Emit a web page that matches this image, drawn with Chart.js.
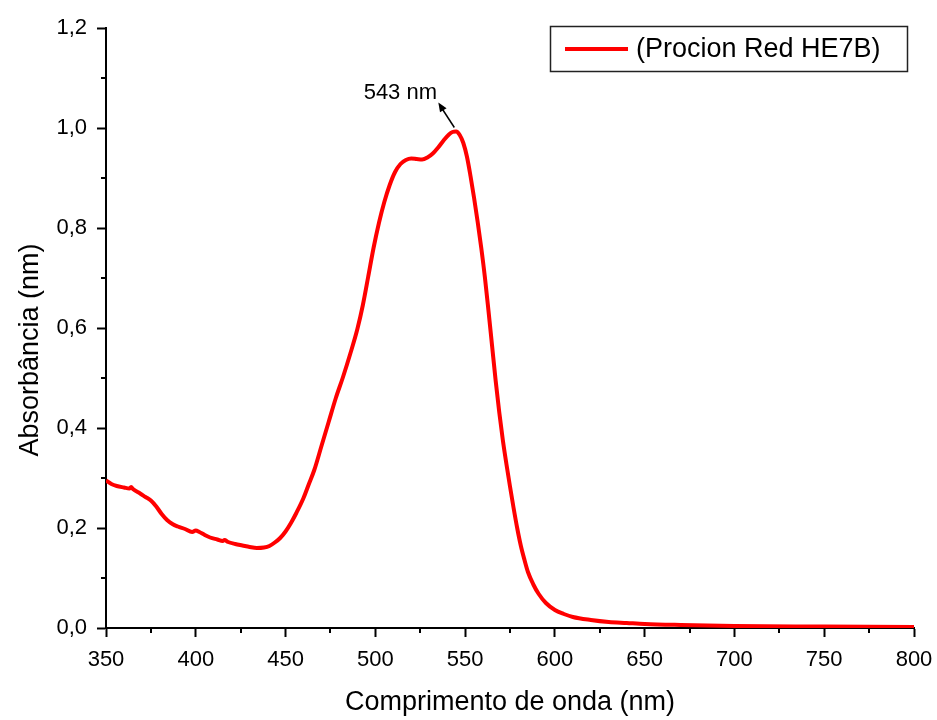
<!DOCTYPE html>
<html>
<head>
<meta charset="utf-8">
<script src="https://cdn.jsdelivr.net/npm/chart.js@4.4.1/dist/chart.umd.min.js"></script>
<style>
    html, body { margin: 0; padding: 0; background: #fff; }
    #wrap { width: 937px; height: 720px; }
</style>
</head>
<body>
<div id="wrap"><canvas id="spectrumChart"></canvas></div>
<script>
// Comprimento de onda (nm)
const wavelengths = [
    350, 353, 356, 360, 363, 364, 365, 369, 372, 375, 378, 381, 384, 387, 390, 394, 398, 400, 402,
    405, 408, 412, 415, 416, 418, 422, 426, 430, 434, 438, 441, 444, 447, 450, 453, 456, 460, 463,
    466, 470, 474, 478, 482, 486, 490, 493, 496, 499, 502, 505, 508, 511, 514, 517, 520, 523, 526,
    529, 532, 535, 538, 541, 543, 545, 547, 549, 551, 553, 555, 557, 559, 561, 563, 565, 567, 569,
    571, 573, 575, 577, 579, 581, 583, 585, 588, 591, 595, 600, 605, 610, 620, 630, 640, 650, 670,
    700, 750, 800
];
// Absorbância
const absorbance = [
    0.295, 0.288, 0.284, 0.281, 0.279, 0.282, 0.278, 0.269, 0.262, 0.255, 0.243, 0.228, 0.216, 0.208, 0.203, 0.198, 0.192, 0.195, 0.192,
    0.186, 0.181, 0.177, 0.174, 0.176, 0.172, 0.168, 0.165, 0.162, 0.160, 0.161, 0.164, 0.171, 0.180, 0.193, 0.210, 0.230, 0.260, 0.288,
    0.316, 0.364, 0.412, 0.460, 0.502, 0.548, 0.598, 0.645, 0.702, 0.760, 0.810, 0.852, 0.886, 0.912, 0.928, 0.936, 0.939, 0.938, 0.937,
    0.941, 0.949, 0.961, 0.975, 0.987, 0.992, 0.993, 0.986, 0.970, 0.943, 0.904, 0.860, 0.812, 0.760, 0.702, 0.635, 0.565, 0.495, 0.432,
    0.376, 0.328, 0.283, 0.240, 0.200, 0.165, 0.137, 0.112, 0.087, 0.068, 0.050, 0.036, 0.028, 0.022, 0.016, 0.012, 0.010, 0.008, 0.006,
    0.004, 0.003, 0.002
];

const seriesLabel = '(Procion Red HE7B)';
const xTitle = 'Comprimento de onda (nm)';
const yTitle = 'Absorbância (nm)';
const peakWavelength = 544;
const peakValue = 0.993;
const peakLabel = '543 nm';

const xMinorTicks = [375, 425, 475, 525, 575, 625, 675, 725, 775];
const yMinorTicks = [0.1, 0.3, 0.5, 0.7, 0.9, 1.1];

const FONT = '"Liberation Sans", Arial, sans-serif';

// ticks secundários
const minorTicksPlugin = {
    id: 'minorTicks',
    afterDraw(chart) {
        const ctx = chart.ctx;
        const x = chart.scales.x, y = chart.scales.y;
        ctx.save();
        ctx.strokeStyle = '#000';
        ctx.lineWidth = 2;
        ctx.beginPath();
        xMinorTicks.forEach(v => {
            const px = Math.round(x.getPixelForValue(v));
            ctx.moveTo(px, y.bottom);
            ctx.lineTo(px, y.bottom + 5);
        });
        yMinorTicks.forEach(v => {
            const py = Math.round(y.getPixelForValue(v));
            ctx.moveTo(x.left, py);
            ctx.lineTo(x.left - 5, py);
        });
        ctx.stroke();
        ctx.restore();
    }
};

// titulo do eixo y, legenda e seta do pico
const extrasPlugin = {
    id: 'extras',
    afterDraw(chart) {
        const ctx = chart.ctx;
        const area = chart.chartArea;
        const x = chart.scales.x, y = chart.scales.y;
        ctx.save();

        // titulo eixo y
        ctx.translate(31, (area.top + area.bottom) / 2 + 22);
        ctx.rotate(-Math.PI / 2);
        ctx.font = '27px ' + FONT;
        ctx.fillStyle = '#000';
        ctx.textAlign = 'center';
        ctx.textBaseline = 'middle';
        ctx.fillText(yTitle, 0, 0);
        ctx.setTransform(1, 0, 0, 1, 0, 0);

        // legenda
        ctx.strokeStyle = '#222';
        ctx.lineWidth = 1.5;
        ctx.strokeRect(550.5, 26.5, 357, 45);
        ctx.strokeStyle = chart.data.datasets[0].borderColor;
        ctx.lineWidth = 4;
        ctx.beginPath();
        ctx.moveTo(565, 49);
        ctx.lineTo(628, 49);
        ctx.stroke();
        ctx.font = '27px ' + FONT;
        ctx.fillStyle = '#000';
        ctx.textAlign = 'left';
        ctx.textBaseline = 'middle';
        ctx.fillText(chart.data.datasets[0].label, 636, 50);

        // seta do pico
        const px = x.getPixelForValue(peakWavelength);
        const py = y.getPixelForValue(peakValue);
        const tx = px - 16, ty = py - 29;
        const sx = px, sy = py - 4;
        ctx.strokeStyle = '#000';
        ctx.lineWidth = 1.5;
        ctx.beginPath();
        ctx.moveTo(sx, sy);
        ctx.lineTo(tx + 3, ty + 5);
        ctx.stroke();
        const ang = Math.atan2(ty - sy, tx - sx);
        ctx.fillStyle = '#000';
        ctx.beginPath();
        ctx.moveTo(tx, ty);
        ctx.lineTo(tx - 10 * Math.cos(ang - 0.4), ty - 10 * Math.sin(ang - 0.4));
        ctx.lineTo(tx - 10 * Math.cos(ang + 0.4), ty - 10 * Math.sin(ang + 0.4));
        ctx.closePath();
        ctx.fill();
        ctx.font = '22px ' + FONT;
        ctx.textAlign = 'center';
        ctx.textBaseline = 'middle';
        ctx.fillText(peakLabel, px - 54, py - 39);

        ctx.restore();
    }
};

const points = wavelengths.map((w, i) => ({ x: w, y: absorbance[i] }));

new Chart(document.getElementById('spectrumChart'), {
    type: 'line',
    data: {
        datasets: [{
            label: seriesLabel,
            data: points,
            borderColor: '#ff0000',
            borderWidth: 4,
            pointRadius: 0,
            fill: false,
            cubicInterpolationMode: 'monotone'
        }]
    },
    options: {
        responsive: true,
        maintainAspectRatio: false,
        animation: false,
        devicePixelRatio: 1,
        layout: { padding: { top: 28, right: 23, left: 0, bottom: 0 } },
        plugins: {
            legend: { display: false },
            tooltip: { enabled: false }
        },
        scales: {
            x: {
                type: 'linear',
                min: 350,
                max: 800,
                afterFit(scale) {
                    scale.height = 92;
                    scale.paddingLeft = 0;
                    scale.paddingRight = 0;
                },
                ticks: {
                    stepSize: 50,
                    color: '#000',
                    padding: 10,
                    font: { family: FONT, size: 22 }
                },
                grid: {
                    drawOnChartArea: false,
                    drawTicks: true,
                    tickLength: 9,
                    tickWidth: 2,
                    tickColor: '#000'
                },
                border: { color: '#000', width: 2 },
                title: {
                    display: true,
                    text: xTitle,
                    color: '#000',
                    font: { family: FONT, size: 27 },
                    padding: { top: 0, bottom: 1 }
                }
            },
            y: {
                min: 0,
                max: 1.2,
                afterFit(scale) {
                    scale.width = 106;
                    scale.paddingTop = 0;
                    scale.paddingBottom = 0;
                },
                ticks: {
                    stepSize: 0.2,
                    color: '#000',
                    padding: 10,
                    font: { family: FONT, size: 22 },
                    callback: v => v.toFixed(1).replace('.', ',')
                },
                grid: {
                    drawOnChartArea: false,
                    drawTicks: true,
                    tickLength: 9,
                    tickWidth: 2,
                    tickColor: '#000'
                },
                border: { color: '#000', width: 2 }
            }
        }
    },
    plugins: [minorTicksPlugin, extrasPlugin]
});
</script>
</body>
</html>
